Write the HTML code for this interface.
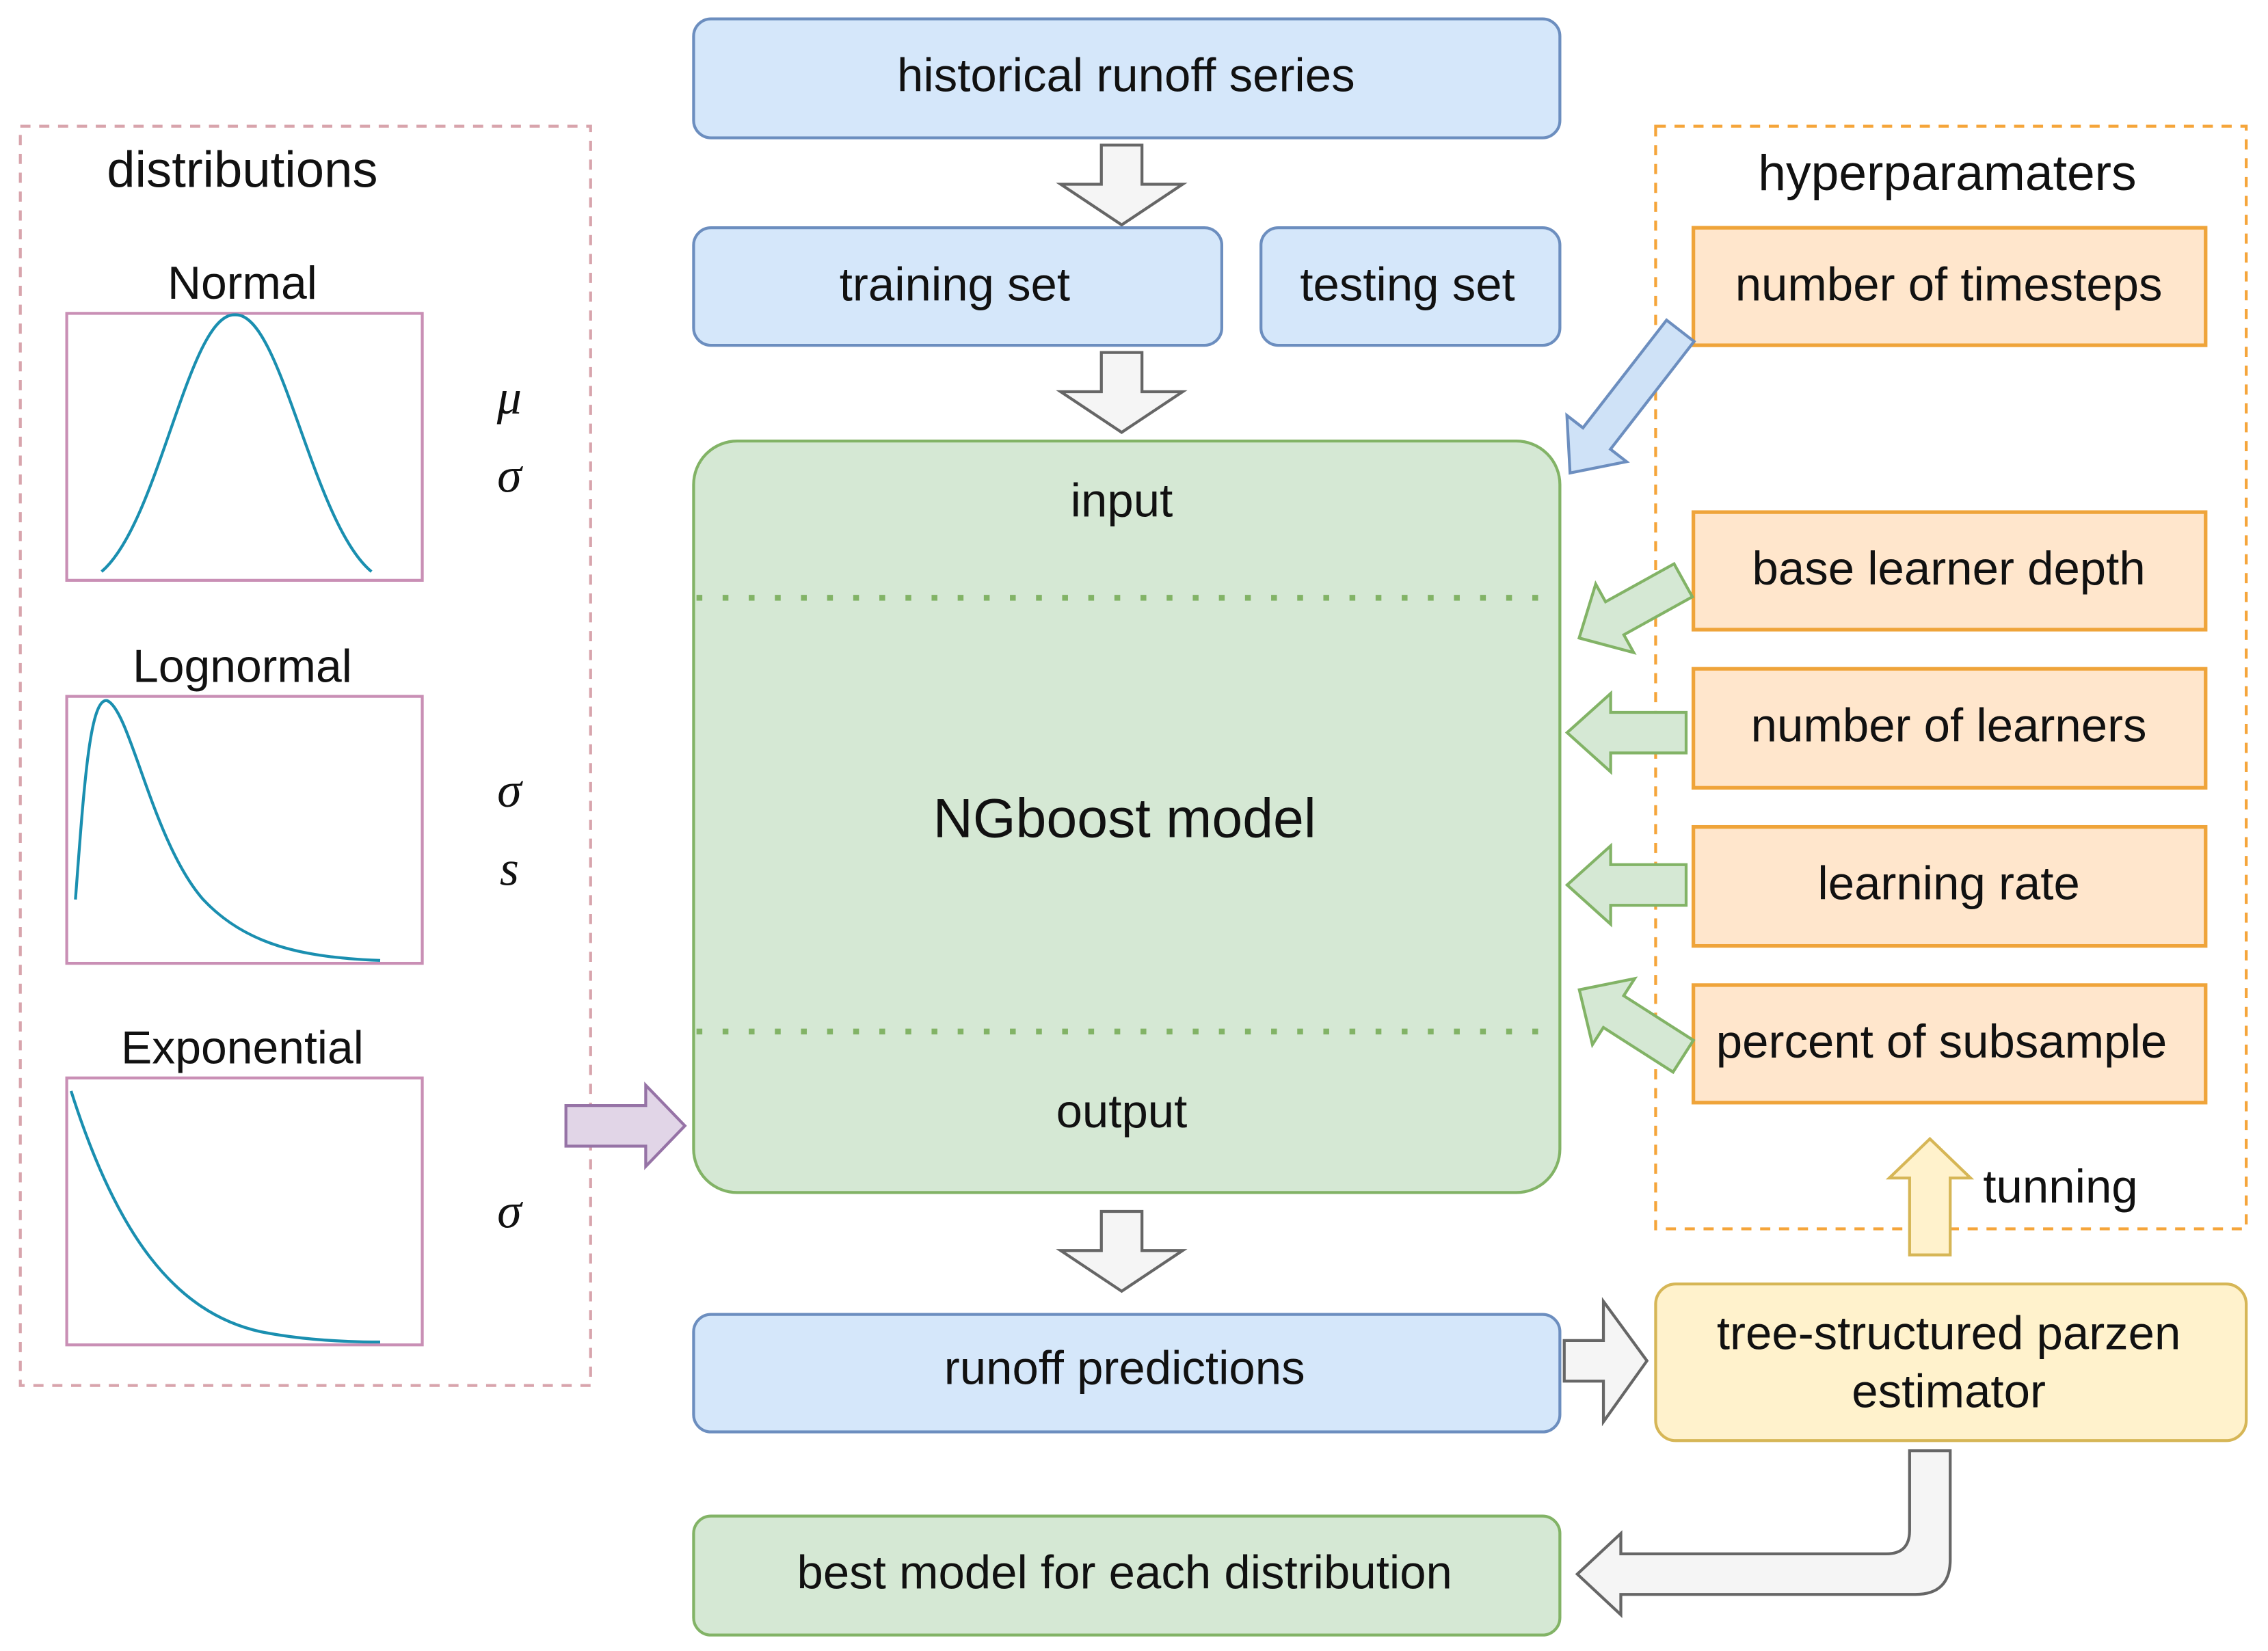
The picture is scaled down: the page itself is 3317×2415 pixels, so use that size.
<!DOCTYPE html>
<html><head><meta charset="utf-8"><style>html,body{margin:0;padding:0;background:#fff}svg{display:block}</style></head>
<body>
<svg width="3317" height="2415" viewBox="0 0 1563 1138" preserveAspectRatio="none" xmlns="http://www.w3.org/2000/svg" font-family="Liberation Sans, sans-serif">
<g text-anchor="middle" fill="#111">
<!-- left dashed -->
<rect x="14" y="87" width="393" height="868" fill="none" stroke="#d8a4ac" stroke-width="2" stroke-dasharray="7,6"/>
<text x="167" y="129" font-size="35">distributions</text>
<text x="167" y="206" font-size="32">Normal</text>
<rect x="46" y="216" width="245" height="184" fill="#fff" stroke="#c98fb5" stroke-width="2"/>
<path d="M70,394 C110,360 130,215 162,217 C194,215 215,360 256,394" fill="none" stroke="#1a8fb0" stroke-width="2"/>
<text x="167" y="470" font-size="32">Lognormal</text>
<rect x="46" y="480" width="245" height="184" fill="#fff" stroke="#c98fb5" stroke-width="2"/>
<path d="M52,620 C58,540 62,480 74,483 C90,490 105,580 140,620 C170,652 210,660 262,662" fill="none" stroke="#1a8fb0" stroke-width="2"/>
<text x="167" y="733" font-size="32">Exponential</text>
<rect x="46" y="743" width="245" height="184" fill="#fff" stroke="#c98fb5" stroke-width="2"/>
<path d="M49,752 C80,850 120,905 180,918 C210,924 240,925 262,925" fill="none" stroke="#1a8fb0" stroke-width="2"/>
<g font-family="Liberation Serif, serif" font-style="italic" font-size="34">
<text x="351" y="285">μ</text><text x="351" y="339">σ</text><text x="351" y="556">σ</text><text x="351" y="610">s</text><text x="351" y="846">σ</text></g>
<polygon points="390,762 445,762 445,748 472,776 445,804 445,790 390,790" fill="#e1d5e7" stroke="#9673a6" stroke-width="2"/>

<!-- center -->
<rect x="478" y="13" width="597" height="82" rx="12" fill="#d5e7fa" stroke="#6c8ebf" stroke-width="2"/>
<text x="776" y="63" font-size="32.5">historical runoff series</text>
<polygon points="759,100 787,100 787,127 815,127 773,155 731,127 759,127" fill="#f5f5f5" stroke="#666" stroke-width="2"/>
<rect x="478" y="157" width="364" height="81" rx="12" fill="#d5e7fa" stroke="#6c8ebf" stroke-width="2"/>
<text x="658" y="207" font-size="32.5">training set</text>
<rect x="869" y="157" width="206" height="81" rx="12" fill="#d5e7fa" stroke="#6c8ebf" stroke-width="2"/>
<text x="970" y="207" font-size="32.5">testing set</text>
<polygon points="759,243 787,243 787,270 815,270 773,298 731,270 759,270" fill="#f5f5f5" stroke="#666" stroke-width="2"/>
<rect x="478" y="304" width="597" height="518" rx="30" fill="#d5e8d4" stroke="#82b366" stroke-width="2"/>
<line x1="480" y1="412" x2="1073" y2="412" stroke="#82b366" stroke-width="4" stroke-dasharray="4,14"/>
<line x1="480" y1="711" x2="1073" y2="711" stroke="#82b366" stroke-width="4" stroke-dasharray="4,14"/>
<text x="773" y="356" font-size="32.5">input</text>
<text x="775" y="577" font-size="38">NGboost model</text>
<text x="773" y="777" font-size="32.5">output</text>
<polygon points="759,835 787,835 787,862 815,862 773,890 731,862 759,862" fill="#f5f5f5" stroke="#666" stroke-width="2"/>
<rect x="478" y="906" width="597" height="81" rx="12" fill="#d5e7fa" stroke="#6c8ebf" stroke-width="2"/>
<text x="775" y="954" font-size="32.5">runoff predictions</text>
<rect x="478" y="1045" width="597" height="82" rx="12" fill="#d5e8d4" stroke="#82b366" stroke-width="2"/>
<text x="775" y="1095" font-size="32.5">best model for each distribution</text>

<!-- right -->
<rect x="1141" y="87" width="407" height="760" fill="none" stroke="#f5a53a" stroke-width="2" stroke-dasharray="7,6"/>
<text x="1342" y="131" font-size="34.5">hyperparamaters</text>
<g fill="#ffe6cc" stroke="#efa43a" stroke-width="2.5">
<rect x="1167" y="157" width="353" height="81"/><rect x="1167" y="353" width="353" height="81"/>
<rect x="1167" y="461" width="353" height="82"/><rect x="1167" y="570" width="353" height="82"/>
<rect x="1167" y="679" width="353" height="81"/></g>
<text x="1343" y="207" font-size="32.5">number of timesteps</text>
<text x="1343" y="403" font-size="32.5">base learner depth</text>
<text x="1343" y="511" font-size="32.5">number of learners</text>
<text x="1343" y="620" font-size="32.5">learning rate</text>
<text x="1338" y="729" font-size="32.5">percent of subsample</text>
<g transform="translate(1158,228) rotate(127.8)"><polygon points="0,-12 94,-12 94,-26 124,0 94,26 94,12 0,12" fill="#cfe2f7" stroke="#6c8ebf" stroke-width="2"/></g>
<g transform="translate(1160,400) rotate(151)"><polygon points="0,-13 54,-13 54,-27 82,0 54,27 54,13 0,13" fill="#d5e8d4" stroke="#82b366" stroke-width="2"/></g>
<g transform="translate(1160,728) rotate(212.6)"><polygon points="0,-13 57,-13 57,-27 85,0 57,27 57,13 0,13" fill="#d5e8d4" stroke="#82b366" stroke-width="2"/></g>
<polygon points="1162,491 1110,491 1110,478 1080,505 1110,532 1110,519 1162,519" fill="#d5e8d4" stroke="#82b366" stroke-width="2"/>
<polygon points="1162,596 1110,596 1110,583 1080,610 1110,637 1110,624 1162,624" fill="#d5e8d4" stroke="#82b366" stroke-width="2"/>
<polygon points="1316,865 1316,812 1302,812 1330,785 1358,812 1344,812 1344,865" fill="#fff2cc" stroke="#d6b656" stroke-width="2"/>
<text x="1420" y="829" font-size="32.5">tunning</text>
<rect x="1141" y="885" width="407" height="108" rx="14" fill="#fff2cc" stroke="#d6b656" stroke-width="2"/>
<text x="1343" y="930" font-size="32.5">tree-structured parzen</text>
<text x="1343" y="970" font-size="32.5">estimator</text>
<polygon points="1078,924 1105,924 1105,897 1135,938 1105,980 1105,952 1078,952" fill="#f5f5f5" stroke="#666" stroke-width="2"/>
<path d="M1316,1000 L1344,1000 L1344,1075 Q1344,1099 1320,1099 L1117,1099 L1117,1113 L1087,1085 L1117,1057 L1117,1071 L1300,1071 Q1316,1071 1316,1055 Z" fill="#f5f5f5" stroke="#666" stroke-width="2"/>
</g>
</svg>
</body></html>
